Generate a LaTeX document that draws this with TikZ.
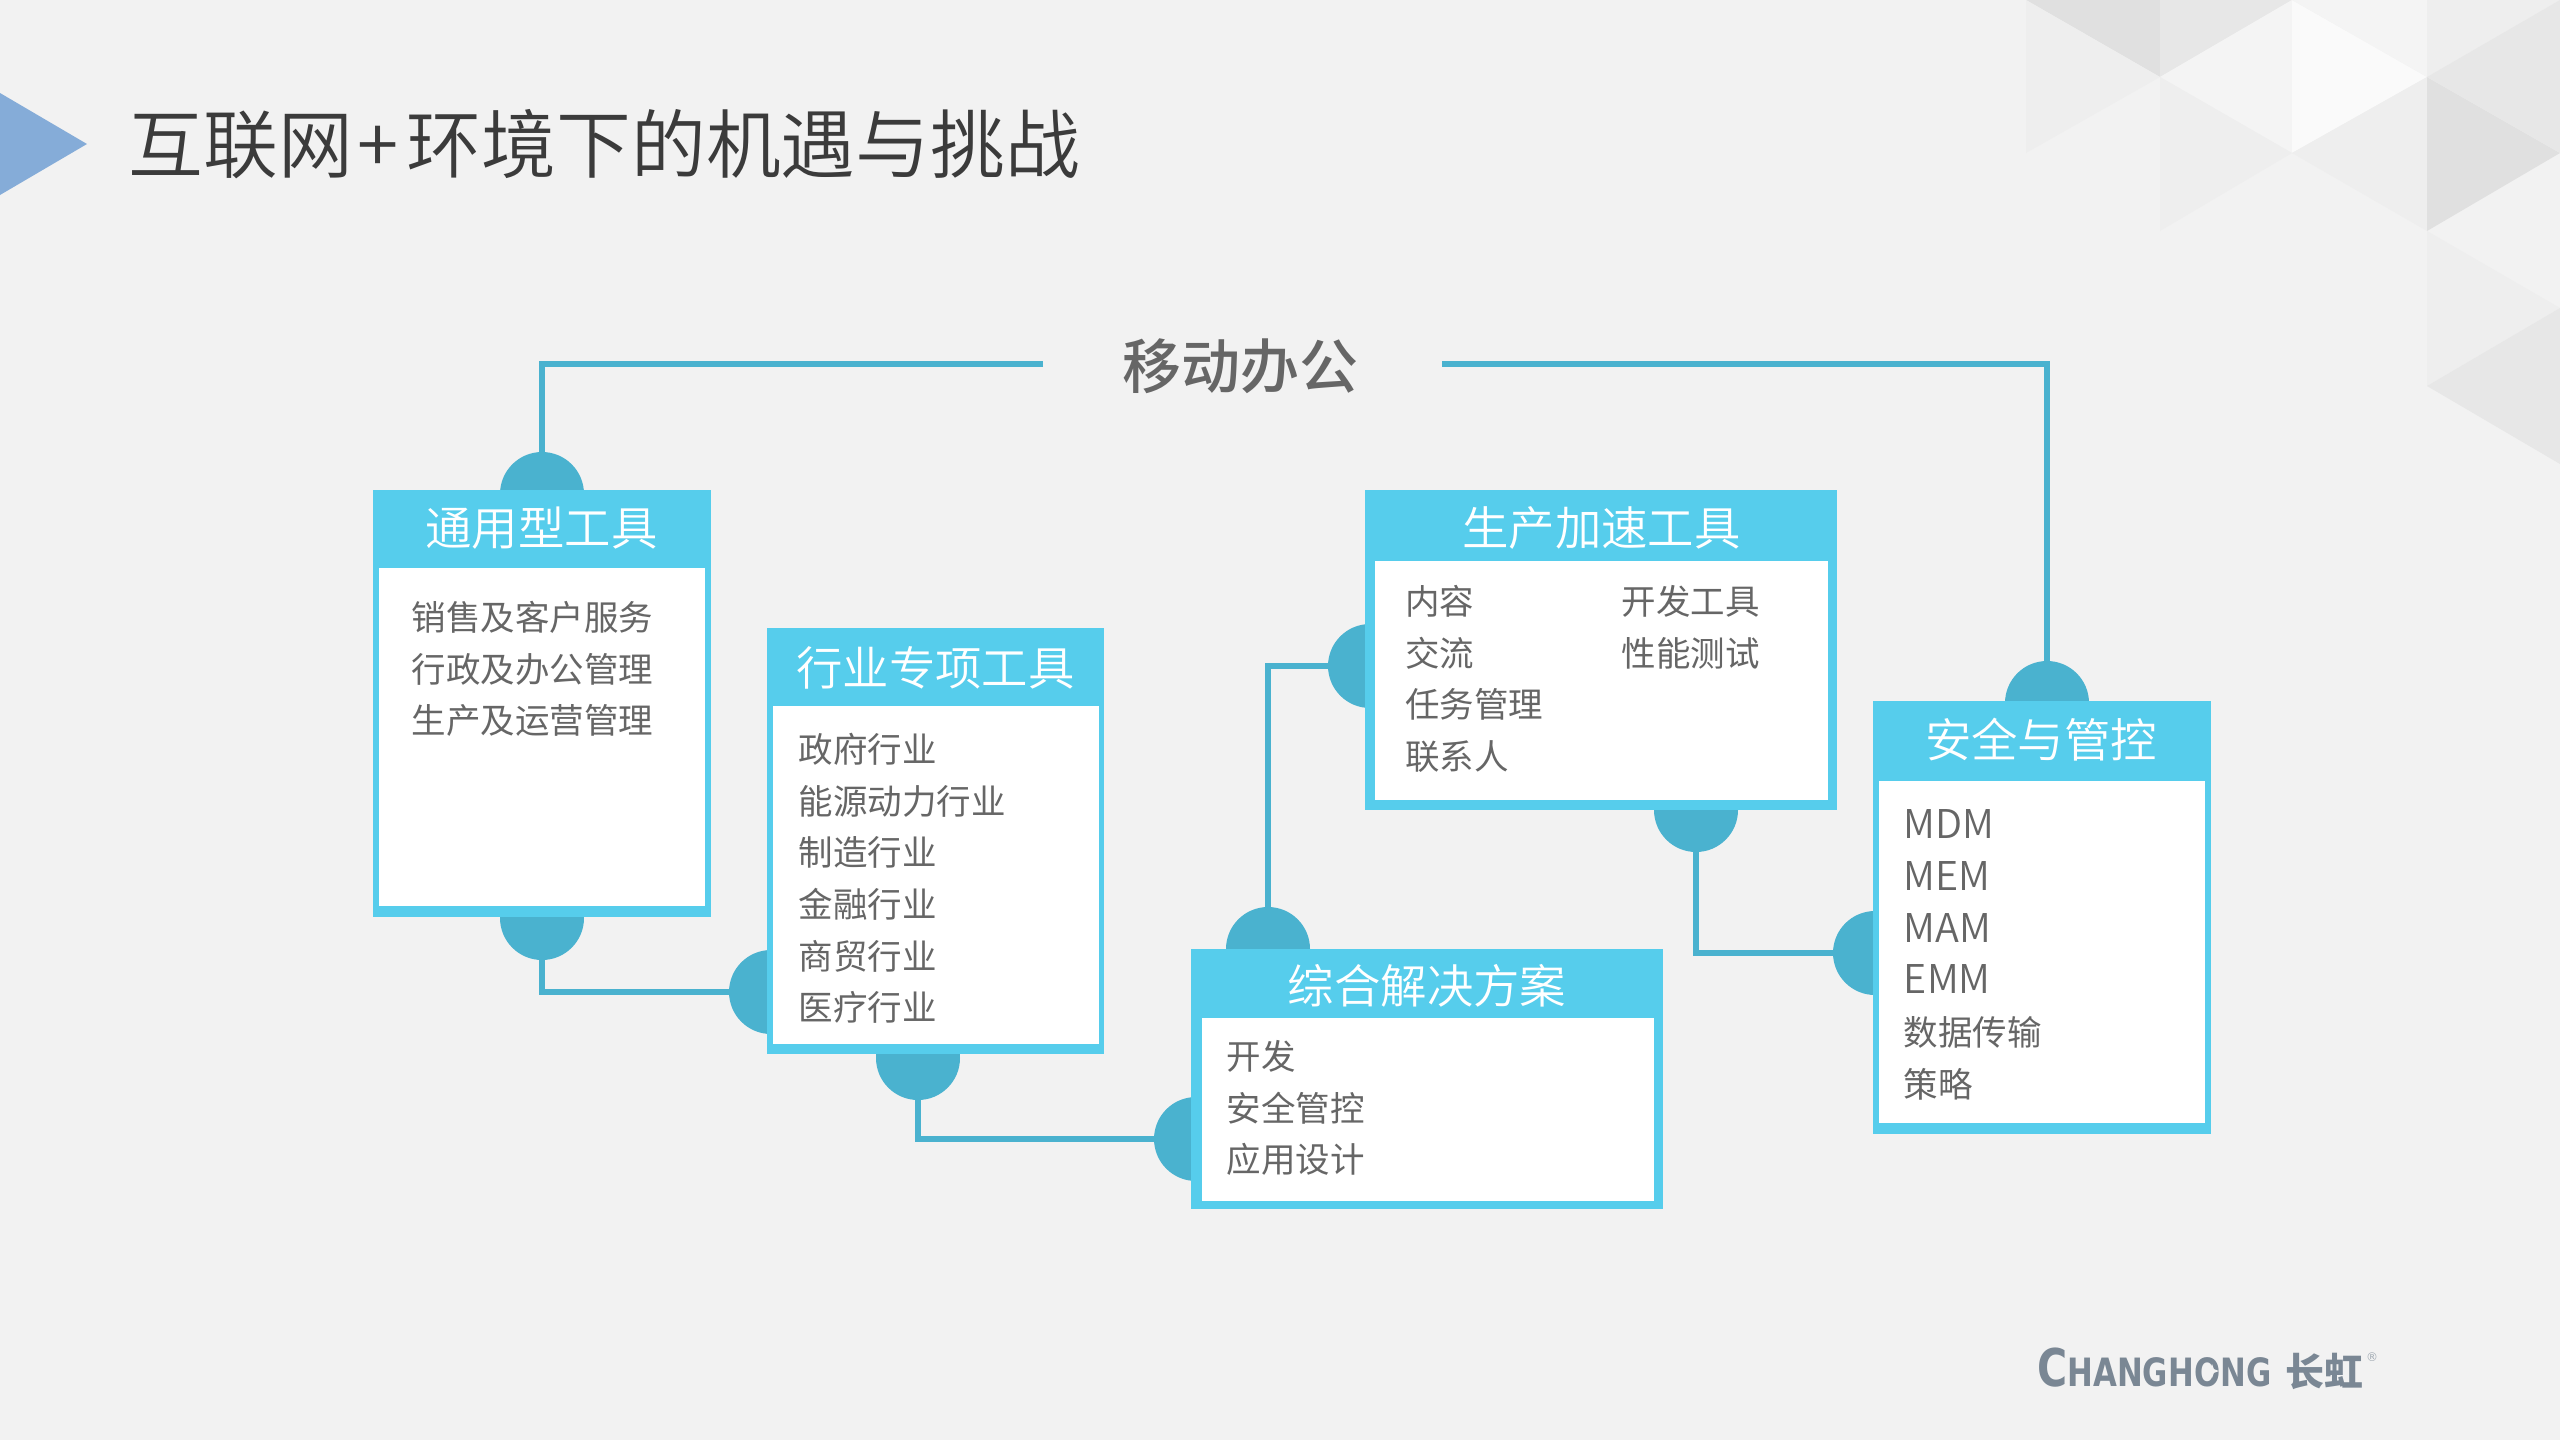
\documentclass[tikz,border=0pt]{standalone}
\usepackage{fontspec}
\setmainfont{Noto Sans CJK SC}
\newfontfamily\demicjk{Noto Sans CJK SC DemiLight}
\newfontfamily\mediumcjk{Noto Sans CJK SC Medium}
\newfontfamily\logofont{DejaVu Sans}
\usetikzlibrary{calc,shapes.geometric}
\definecolor{pagebg}{HTML}{F2F2F2}
\definecolor{boxblue}{HTML}{56CDEC}
\definecolor{dotblue}{HTML}{4AB2CF}
\definecolor{itemgray}{HTML}{666666}
\definecolor{logogray}{HTML}{7A8794}
\newcommand{\latinitem}[1]{{\demicjk\fontsize{19.8}{25.85}\selectfont #1}}

\begin{document}
\begin{tikzpicture}[x=0.5pt,y=-0.5pt]
% Styles: connector dots, boxes and their texts
\tikzstyle{dot}=[circle,fill=dotblue,inner sep=0,minimum size=42pt];
\tikzstyle{frame}=[rectangle,fill=boxblue,inner sep=0];
\tikzstyle{pane}=[rectangle,fill=white,inner sep=0];
\tikzstyle{head}=[text=white,inner sep=0,font=\demicjk\fontsize{23.2}{28}\selectfont];
\tikzstyle{items}=[text=itemgray,inner sep=0,anchor=west,align=left,font=\fontsize{17.25}{25.85}\selectfont];
\tikzstyle{link}=[draw=dotblue,line width=2.8pt];
\useasboundingbox (0,0) rectangle (2560,1440);
\fill[pagebg] (0,0) rectangle (2560,1440);
% corner triangles
\fill[black!12] (2026,0)--(2160,0)--(2160,77)--cycle;
\fill[black!9.5] (2160,0)--(2292,0)--(2160,77)--cycle;
\fill[black!6.5] (2026,0)--(2160,77)--(2026,153)--cycle;
\fill[black!4.5] (2160,77)--(2292,0)--(2292,153)--cycle;
\fill[black!2] (2292,0)--(2427,77)--(2292,153)--cycle;
\fill[black!4.5] (2292,0)--(2427,0)--(2427,77)--cycle;
\fill[black!6.5] (2427,0)--(2560,0)--(2427,77)--cycle;
\fill[black!6.5] (2160,77)--(2292,153)--(2160,231)--cycle;
\fill[black!6.5] (2292,153)--(2427,77)--(2427,231)--cycle;
\fill[black!12] (2427,77)--(2560,153)--(2427,231)--cycle;
\fill[black!9.5] (2560,0)--(2427,77)--(2560,153)--cycle;
\fill[black!6.5] (2427,231)--(2560,308)--(2427,386)--cycle;
\fill[black!9.5] (2427,386)--(2560,308)--(2560,464)--cycle;
% title
\fill[color={rgb,255:red,133;green,172;blue,216}] (0,93)--(87,144)--(0,195)--cycle;
\node(title)[anchor=west,inner sep=0,text={rgb,255:red,59;green,59;blue,59},font=\demicjk\fontsize{37.4}{44}\selectfont] at (128,144) {互联网\hspace{2.5pt}+\hspace{4pt}环境下的机遇与挑战};
\node(mobile)[inner sep=0,text=itemgray,font=\mediumcjk\fontsize{29.5}{36}\selectfont] at (1240,366) {移动办公};
\coordinate(ruleleft) at (1043,364);
\coordinate(ruleright) at (1442,364);
% dots
\node(d1top)[dot] at (542,494) {};
\node(d1bot)[dot] at (542,918) {};
\node(d2left)[dot] at (771,992) {};
\node(d2bot)[dot] at (918,1058) {};
\node(d3left)[dot] at (1370,666) {};
\node(d3bot)[dot] at (1696,810) {};
\node(d4top)[dot] at (1268,949) {};
\node(d4left)[dot] at (1196,1139) {};
\node(d5top)[dot] at (2047,703) {};
\node(d5left)[dot] at (1875,953) {};
% links
\draw[link](ruleleft)-|(d1top.north);
\draw[link](ruleright)-|(d5top.north);
\draw[link](d1bot.south)|-(d2left.west);
\draw[link](d2bot.south)|-(d4left.west);
\draw[link](d4top.north)|-(d3left.west);
\draw[link](d3bot.south)|-(d5left.west);
% boxes
\node(box1)[frame,minimum width=169pt,minimum height=213.5pt] at (542,703.5) {};
\node(pane1)[pane,minimum width=163pt,minimum height=169pt] at (542,737) {};
\node(head1)[head] at (541.5,528) {通用型工具};
\node(list1)[items] at (411.5,669) {销售及客户服务\\行政及办公管理\\生产及运营管理};
\node(box2)[frame,minimum width=168.5pt,minimum height=213pt] at (935.5,841) {};
\node(pane2)[pane,minimum width=163pt,minimum height=169pt] at (936,875) {};
\node(head2)[head] at (935.5,667.5) {行业专项工具};
\node(list2)[items] at (798.5,878.5) {政府行业\\能源动力行业\\制造行业\\金融行业\\商贸行业\\医疗行业};
\node(box3)[frame,minimum width=236pt,minimum height=160pt] at (1601,650) {};
\node(pane3)[pane,minimum width=226.5pt,minimum height=119.5pt] at (1601.5,680.5) {};
\node(head3)[head] at (1601.5,528) {生产加速工具};
\node(list3)[items] at (1405,679) {内容\\交流\\任务管理\\联系人};
\node(list3b)[items] at (1621.5,627) {开发工具\\性能测试};
\node(box4)[frame,minimum width=236pt,minimum height=130pt] at (1427,1079) {};
\node(pane4)[pane,minimum width=226pt,minimum height=91.5pt] at (1428,1109) {};
\node(head4)[head] at (1427,985.5) {综合解决方案};
\node(list4)[items] at (1226.5,1108) {开发\\安全管控\\应用设计};
\node(box5)[frame,minimum width=169pt,minimum height=216.5pt] at (2042,917.5) {};
\node(pane5)[pane,minimum width=163pt,minimum height=171pt] at (2042,952) {};
\node(head5)[head] at (2041,740) {安全与管控};
\node(list5)[items] at (1903.5,955) {\latinitem{MDM}\\\latinitem{MEM}\\\latinitem{MAM}\\\latinitem{EMM}\\数据传输\\策略};
% logo
\node(logo)[anchor=west,inner sep=0,text=logogray,font=\logofont\bfseries] at (2037,1368) {\scalebox{0.79}[1]{\fontsize{26}{26}\selectfont C\fontsize{19.5}{26}\selectfont HANGHONG}};
\node(logostar)[star,star points=4,star point ratio=2.6,fill=pagebg,inner sep=0,minimum size=7pt] at (2212,1371) {};
\node(logocn)[anchor=west,inner sep=0,text=logogray,font=\bfseries\fontsize{19.5}{24}\selectfont] at (2285,1371) {长虹};
\node(logomark)[inner sep=0,text=logogray!70,font=\logofont\fontsize{6}{6}\selectfont] at (2372,1357) {®};
\end{tikzpicture}
\end{document}
